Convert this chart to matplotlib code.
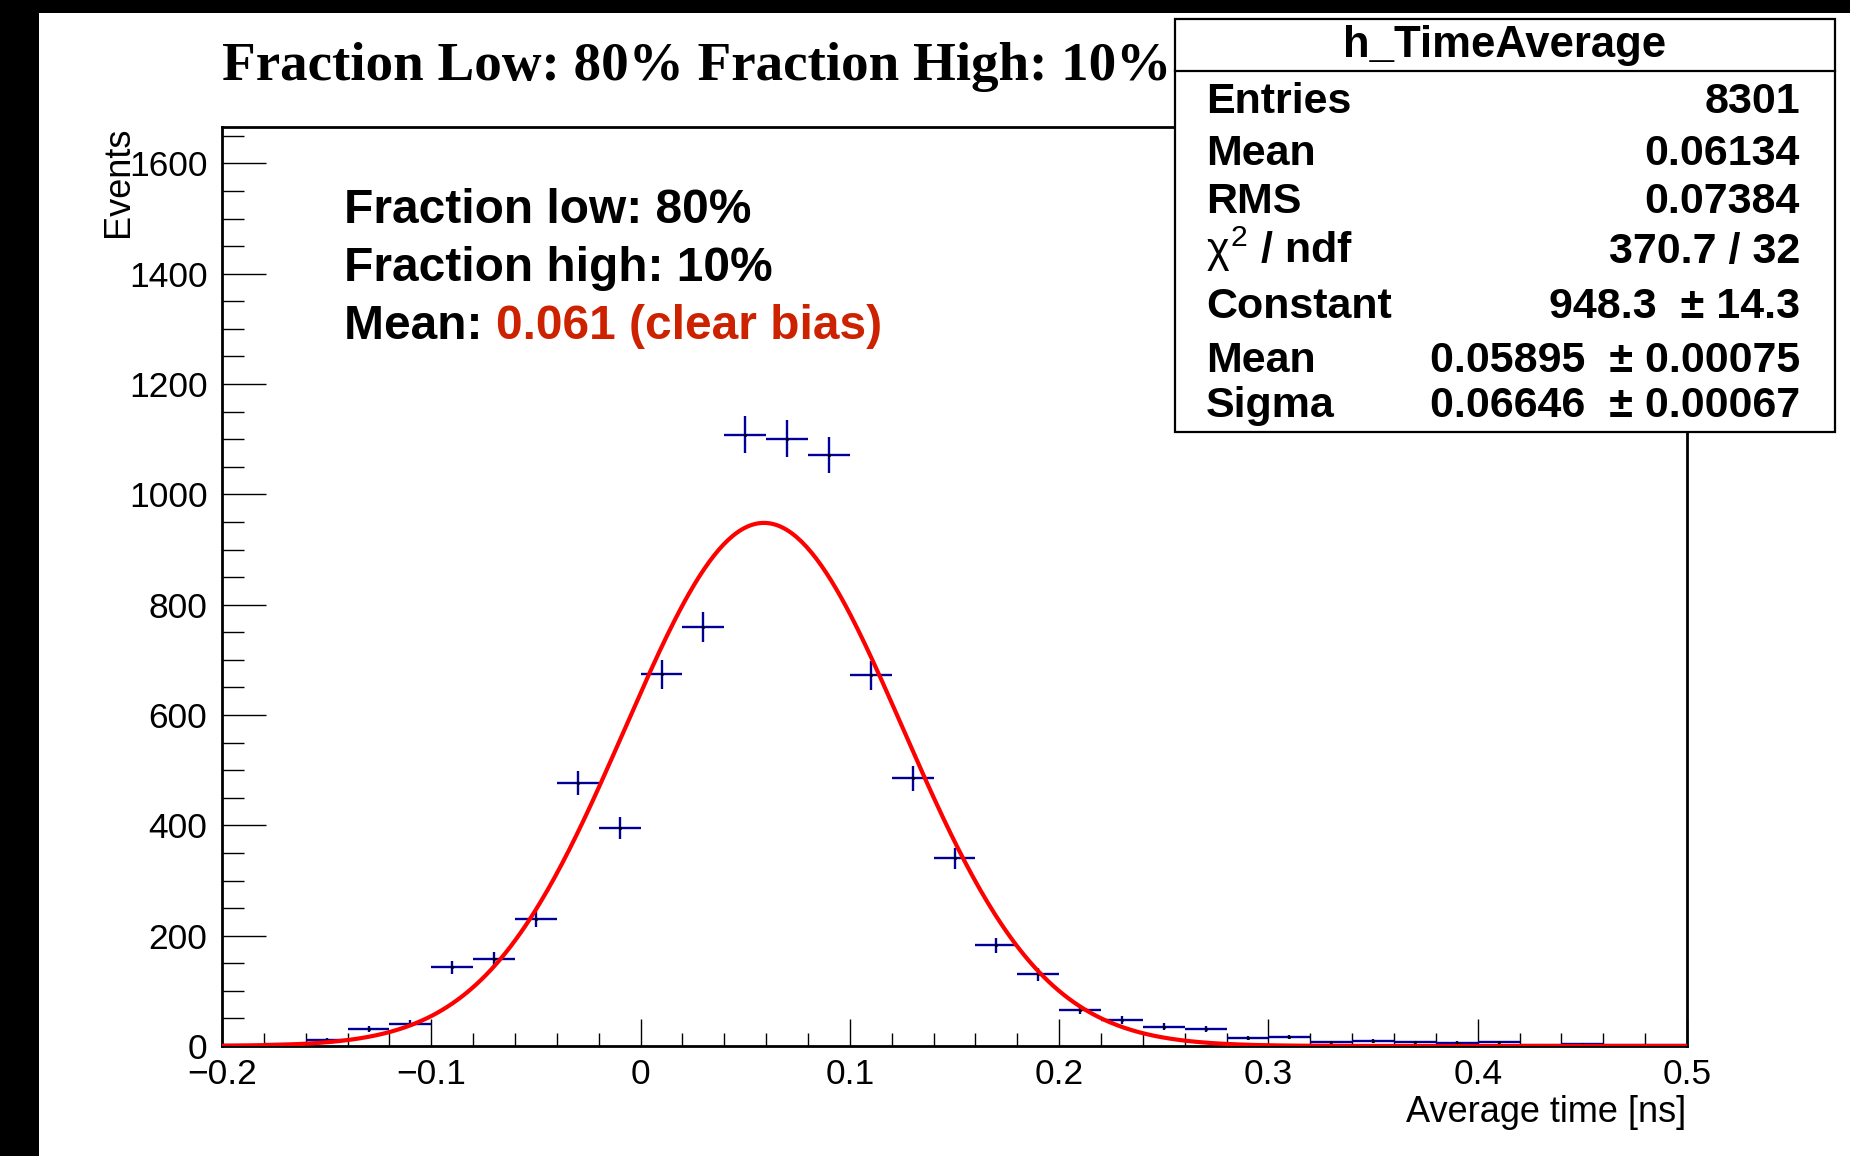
import numpy as np
import matplotlib
matplotlib.use('Agg')
import matplotlib.pyplot as plt
from matplotlib.patches import Rectangle
from matplotlib.lines import Line2D
from matplotlib.ticker import MultipleLocator, FixedLocator, FixedFormatter

# ---------------- data ----------------
bin_lo, bin_hi, n_bins = -0.2, 0.5, 35
counts = [1, 3, 11, 31, 40, 143, 158, 230, 476, 396,
          674, 760, 1108, 1101, 1072, 672, 485, 340, 183, 130,
          66, 47, 35, 30, 14, 16, 7, 9, 7, 6,
          7, 2, 3, 1, 1]
fit_constant = 948.3
fit_mean = 0.05895
fit_sigma = 0.06646

title_text = "Fraction Low: 80% Fraction High: 10%"
note_lines = ["Fraction low: 80%", "Fraction high: 10%"]
note_mean_label = "Mean: "
note_mean_value = "0.061 (clear bias)"

stats_title = "h_TimeAverage"
stats_labels = ["Entries", "Mean", "RMS", r"$\chi^{2}$ / ndf", "Constant", "Mean", "Sigma"]
stats_values = ["8301", "0.06134", "0.07384", "370.7 / 32",
                "948.3  ± 14.3", "0.05895  ± 0.00075", "0.06646  ± 0.00067"]

x_major = [-0.2, -0.1, 0.0, 0.1, 0.2, 0.3, 0.4, 0.5]
x_major_labels = ["\u22120.2", "\u22120.1", "0", "0.1", "0.2", "0.3", "0.4", "0.5"]
y_major = [0, 200, 400, 600, 800, 1000, 1200, 1400, 1600]
y_major_labels = ["0", "200", "400", "600", "800", "1000", "1200", "1400", "1600"]
y_max = 1666
x_label = "Average time [ns]"
y_label = "Events"

# ---------------- figure ----------------
plt.rcParams['font.family'] = ['Liberation Sans', 'DejaVu Sans']
plt.rcParams['mathtext.fontset'] = 'custom'
plt.rcParams['mathtext.rm'] = 'Liberation Sans'
plt.rcParams['mathtext.it'] = 'Liberation Sans'
plt.rcParams['mathtext.bf'] = 'Liberation Sans:bold'

W, H = 1850, 1156
fig = plt.figure(figsize=(W / 100, H / 100), dpi=100)
fig.patch.set_facecolor('white')

def fx(px):
    return px / W

def fy(py):
    return 1 - py / H

ax_l, ax_r, ax_t, ax_b = 222, 1687, 127, 1046
ax = fig.add_axes([fx(ax_l), fy(ax_b), (ax_r - ax_l) / W, (ax_b - ax_t) / H])

edges = np.linspace(bin_lo, bin_hi, n_bins + 1)
centers = 0.5 * (edges[:-1] + edges[1:])
half_w = 0.5 * (edges[1] - edges[0])
cnt = np.array(counts, dtype=float)

ax.errorbar(centers, cnt, xerr=half_w, yerr=np.sqrt(cnt), fmt='none',
            ecolor='#000099', elinewidth=1.7, capsize=0, zorder=3)
ax.plot(centers, cnt, linestyle='none', marker='.', markersize=2.5,
        color='black', zorder=3)

xs = np.linspace(bin_lo, bin_hi, 600)
ys = fit_constant * np.exp(-0.5 * ((xs - fit_mean) / fit_sigma) ** 2)
ax.plot(xs, ys, color='#ff0000', lw=3.0, zorder=4, solid_capstyle='butt')

ax.set_xlim(bin_lo, bin_hi)
ax.set_ylim(0, y_max)
ax.xaxis.set_major_locator(FixedLocator(x_major))
ax.xaxis.set_major_formatter(FixedFormatter(x_major_labels))
ax.xaxis.set_minor_locator(MultipleLocator(0.02))
ax.yaxis.set_major_locator(FixedLocator(y_major))
ax.yaxis.set_major_formatter(FixedFormatter(y_major_labels))
ax.yaxis.set_minor_locator(MultipleLocator(50))

ax.tick_params(axis='x', which='major', direction='in', length=19.5, width=1.0,
               labelsize=25.5, pad=8.5, top=False)
ax.tick_params(axis='x', which='minor', direction='in', length=9.5, width=1.0, top=False)
ax.tick_params(axis='y', which='major', direction='in', length=31.5, width=1.0,
               labelsize=25.5, pad=10.5, right=False)
ax.tick_params(axis='y', which='minor', direction='in', length=16, width=1.0, right=False)
for sp in ax.spines.values():
    sp.set_linewidth(2.0)

# axis titles
fig.text(fx(1686), fy(1122), x_label, ha='right', va='baseline', fontsize=26)
fig.text(fx(119), fy(127), y_label, ha='center', va='top', rotation=90, fontsize=26)

# title
fig.text(fx(222), fy(80), title_text, ha='left', va='baseline', fontsize=39.6,
         fontweight='bold', family=['Liberation Serif', 'DejaVu Serif'])

# annotation
note_x = 344
note_base = [223, 281, 339]
for line, b in zip(note_lines, note_base[:2]):
    fig.text(fx(note_x), fy(b), line, ha='left', va='baseline', fontsize=34.5,
             fontweight='bold', color='black')
t_mean = fig.text(fx(note_x), fy(note_base[2]), note_mean_label, ha='left',
                  va='baseline', fontsize=34.5, fontweight='bold', color='black')
fig.canvas.draw()
bb = t_mean.get_window_extent(renderer=fig.canvas.get_renderer())
fig.text(bb.x1 / W, fy(note_base[2]), note_mean_value, ha='left', va='baseline',
         fontsize=34.5, fontweight='bold', color='#cc2200')

# stats box
bx_l, bx_r, bx_t, bx_b = 1175, 1835, 19, 432
fig.patches.append(Rectangle((fx(bx_l), fy(bx_b)), (bx_r - bx_l) / W, (bx_b - bx_t) / H,
                             transform=fig.transFigure, facecolor='white',
                             edgecolor='black', linewidth=1.6, zorder=5))
fig.lines.append(Line2D([fx(bx_l), fx(bx_r)], [fy(71), fy(71)], transform=fig.transFigure,
                        color='black', linewidth=1.6, zorder=6))
fig.text(fx((bx_l + bx_r) / 2), fy(57), stats_title, ha='center', va='baseline',
         fontsize=31.4, fontweight='bold', zorder=7)
row_base = [113, 165, 213, 263, 318, 372, 417]
for lab, val, b in zip(stats_labels, stats_values, row_base):
    fig.text(fx(1206), fy(b), lab, ha='left', va='baseline', fontsize=31,
             fontweight='bold', zorder=7)
    fig.text(fx(1800), fy(b), val, ha='right', va='baseline', fontsize=31,
             fontweight='bold', zorder=7)

# black borders of the original canvas
fig.patches.append(Rectangle((0, 0), fx(39), 1, transform=fig.transFigure,
                             facecolor='black', edgecolor='none', zorder=10))
fig.patches.append(Rectangle((0, fy(13)), 1, 13 / H, transform=fig.transFigure,
                             facecolor='black', edgecolor='none', zorder=10))

fig.savefig('out.png', dpi=100, facecolor='white')
